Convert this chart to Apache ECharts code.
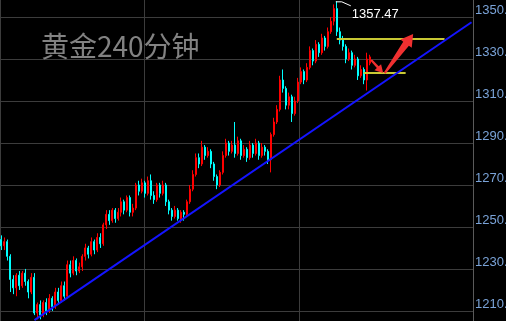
<!DOCTYPE html>
<html><head><meta charset="utf-8">
<script src="https://cdn.jsdelivr.net/npm/echarts@6/dist/echarts.min.js"></script>
<style>html,body{margin:0;padding:0;background:#000;}#c{width:506px;height:321px;}</style>
</head><body><div id="c"></div>
<script>
const chartTitle = '黄金240分钟';
const yTickValues = [1210, 1230, 1250, 1270, 1290, 1310, 1330, 1350];
const slotCount = 158;
// [open, close, low, high]
const candles = [
[1244,1241,1239,1246],[1241,1243,1239,1245],[1243,1236,1234,1244],[1236,1225,1219,1237],[1225,1221,1218,1227],
[1221,1227,1217,1228],[1227,1222,1220,1229],[1222,1228,1221,1229],[1228,1224,1222,1230],[1224,1219,1216,1225],
[1219,1226,1218,1228],[1226,1209,1208,1228],[1209,1213,1206,1214],[1213,1208,1206,1215],[1208,1214,1207,1215],
[1214,1210,1208,1216],[1210,1216,1209,1218],[1216,1212,1210,1217],[1212,1219,1211,1221],[1219,1215,1213,1221],
[1215,1222,1214,1224],[1222,1217,1215,1224],[1217,1232,1216,1234],[1232,1228,1226,1234],[1228,1234,1227,1236],
[1234,1229,1227,1235],[1229,1231,1228,1233],[1231,1236,1229,1237],[1236,1240,1234,1242],[1240,1237,1235,1241],
[1237,1243,1236,1245],[1243,1239,1237,1244],[1239,1245,1238,1247],[1245,1242,1240,1247],[1242,1251,1241,1252],
[1251,1256,1249,1258],[1256,1253,1251,1258],[1253,1258,1252,1259],[1258,1254,1252,1259],[1254,1257,1253,1259],
[1257,1262,1255,1264],[1262,1258,1256,1263],[1258,1264,1257,1265],[1264,1257,1255,1265],[1257,1259,1255,1261],
[1259,1270,1258,1271],[1270,1267,1265,1272],[1267,1271,1266,1273],[1271,1266,1264,1272],[1266,1272,1265,1274],
[1272,1265,1263,1275],[1265,1263,1261,1267],[1263,1270,1262,1271],[1270,1266,1264,1271],[1266,1270,1265,1272],
[1270,1262,1260,1271],[1262,1258,1256,1263],[1258,1255,1253,1259],[1255,1258,1254,1260],[1258,1254,1253,1259],
[1254,1257,1252,1258],[1257,1256,1253,1258],[1256,1262,1255,1263],[1262,1268,1261,1270],[1268,1275,1267,1277],
[1275,1283,1274,1285],[1283,1280,1278,1285],[1280,1288,1279,1291],[1288,1284,1282,1289],[1284,1286,1283,1288],
[1286,1280,1278,1287],[1280,1274,1272,1281],[1274,1270,1268,1275],[1270,1276,1269,1277],[1276,1284,1275,1286],
[1284,1290,1283,1292],[1290,1286,1284,1291],[1286,1289,1285,1291],[1289,1285,1283,1300],[1285,1291,1284,1293],
[1291,1284,1282,1292],[1284,1287,1283,1289],[1287,1283,1281,1288],[1283,1289,1282,1291],[1289,1285,1283,1290],
[1285,1290,1284,1292],[1290,1284,1282,1291],[1284,1288,1283,1290],[1288,1286,1284,1289],[1286,1282,1280,1287],
[1282,1294,1276,1295],[1294,1300,1293,1302],[1300,1306,1299,1308],[1306,1320,1305,1322],[1320,1316,1314,1325],
[1316,1308,1306,1317],[1308,1312,1306,1314],[1312,1304,1300,1313],[1304,1310,1303,1312],[1310,1319,1309,1321],
[1319,1324,1318,1326],[1324,1320,1318,1325],[1320,1326,1319,1328],[1326,1334,1325,1336],[1334,1329,1327,1335],
[1329,1337,1328,1339],[1337,1333,1331,1338],[1333,1340,1332,1342],[1340,1336,1334,1341],[1336,1343,1335,1345],
[1343,1348,1342,1350],[1348,1354,1346,1356],[1354,1343,1341,1357.47],[1343,1339,1337,1345],[1339,1336,1334,1341],
[1336,1330,1328,1337],[1330,1333,1329,1335],[1333,1327,1325,1334],[1327,1330,1326,1332],[1330,1322,1320,1331],
[1322,1325,1321,1327],[1325,1320,1318,1326],[1320,1330,1315,1333],[1328,1331,1327,1332]
];
const supportLevel = 1339.5;
const pullbackLevel = 1323.5;
const trendStart = [11, 1205.6];
const trendEnd = [157, 1347.5];
const vGridSlots = [0, 48, 100];

const categories = [];
for (let i = 0; i < slotCount; i++) categories.push('K' + (i + 1));
const seriesData = candles.map(c => c.slice());
while (seriesData.length < slotCount) seriesData.push('-');

const chart = echarts.init(document.getElementById('c'), null, {renderer: 'canvas'});
const option = {
  backgroundColor: '#000000',
  animation: false,
  title: {
    text: chartTitle, left: 41, top: 32, padding: 0,
    textStyle: {color: '#828282', fontSize: 28, fontWeight: 'normal', fontFamily: 'Noto Sans CJK SC'}
  },
  grid: {left: 0, right: 33, top: 0, bottom: 0, containLabel: false, outerBoundsMode: 'none'},
  xAxis: {
    type: 'category', data: categories, boundaryGap: true,
    axisLine: {show: false}, axisTick: {show: false}, axisLabel: {show: false},
    splitLine: {show: false}
  },
  yAxis: {
    type: 'value', position: 'right', min: 1205.2, max: 1358.1, scale: true,
    axisLine: {show: true, lineStyle: {color: '#5a5a5a', width: 1}},
    axisTick: {show: false, customValues: yTickValues},
    axisLabel: {show: true, customValues: yTickValues, inside: false, margin: 2,
      color: '#7aa3d8', fontSize: 13, fontFamily: 'Liberation Sans',
      verticalAlign: 'bottom', lineHeight: 13,
      formatter: v => v.toFixed(1)},
    splitLine: {show: false}
  },
  series: [{
    type: 'candlestick', data: seriesData, barWidth: 1.5, z: 3,
    itemStyle: {color: '#ff0000', color0: '#00ffff', borderColor: '#ff0000', borderColor0: '#00ffff', borderWidth: 1},
    markLine: {
      silent: true, symbol: 'none', label: {show: false}, animation: false,
      data: [
        [{coord: [112, supportLevel], lineStyle: {color: '#c8c834', width: 2, type: 'solid'}}, {coord: [148, supportLevel]}],
        [{coord: [121, pullbackLevel], lineStyle: {color: '#c8c834', width: 2, type: 'solid'}}, {coord: [135, pullbackLevel]}],
        [{coord: trendStart, lineStyle: {color: '#1414ff', width: 2, type: 'solid'}}, {coord: trendEnd}]
      ]
    }
  }]
};
chart.setOption(option);

function px(i, v) {
  const i0 = Math.floor(i), f = i - i0;
  const a = chart.convertToPixel({seriesIndex: 0}, [i0, v]);
  const b = chart.convertToPixel({seriesIndex: 0}, [i0 + 1, v]);
  return [a[0] + (b[0] - a[0]) * f, a[1]];
}
function arrowPoly(s, t, w0, w1, hw, hl) {
  const dx = t[0] - s[0], dy = t[1] - s[1], L = Math.hypot(dx, dy);
  const ux = dx / L, uy = dy / L, nx = -uy, ny = ux;
  const bx = t[0] - ux * hl, by = t[1] - uy * hl;
  return [
    [s[0] + nx * w0 / 2, s[1] + ny * w0 / 2],
    [bx + nx * w1 / 2, by + ny * w1 / 2],
    [bx + nx * hw / 2, by + ny * hw / 2],
    [t[0], t[1]],
    [bx - nx * hw / 2, by - ny * hw / 2],
    [bx - nx * w1 / 2, by - ny * w1 / 2],
    [s[0] - nx * w0 / 2, s[1] - ny * w0 / 2]
  ];
}
// grid lines placed through the axes' own scales, as thin solid bands
const gridGraphics = [];
const gx1 = Math.round(px(157, 1300)[0] + 1.5);
yTickValues.forEach(v => {
  const y = Math.round(px(0, v)[1]);
  gridGraphics.push({type: 'rect', silent: true, z: 0,
    shape: {x: 0, y: y, width: gx1, height: 1}, style: {fill: '#3c3c3c'}});
});
vGridSlots.forEach(i => {
  const x = Math.max(0, Math.round(px(i, 1300)[0] - 1.5));
  gridGraphics.push({type: 'rect', silent: true, z: 0,
    shape: {x: x, y: 0, width: 1, height: 321}, style: {fill: '#3c3c3c'}});
});
let mi = 0;
candles.forEach((c, i) => { if (c[3] > candles[mi][3]) mi = i; });
const peak = px(mi, candles[mi][3]);
const a1s = px(123.5, 1329.5), a1t = px(127.5, 1323.3);
const a2s = px(128, 1323.3), a2t = px(137.5, 1341.9);
chart.setOption({
  graphic: gridGraphics.concat([
    {type: 'polyline', silent: true, z: 10, shape: {points: [[peak[0] - 1, peak[1] + 0.5], [peak[0] + 5, peak[1] + 0.5], [peak[0] + 14, peak[1] + 4.5]]},
      style: {stroke: '#ffffff', lineWidth: 1, fill: null}},
    {type: 'text', silent: true, z: 10, x: peak[0] + 15, y: peak[1] + 13,
      style: {text: candles[mi][3].toFixed(2), fill: '#ffffff', font: '13px "Liberation Sans"', verticalAlign: 'middle', align: 'left'}},
    {type: 'polygon', silent: true, z: 10, shape: {points: arrowPoly(a1s, a1t, 2, 2.5, 9, 8)}, style: {fill: '#f03030'}},
    {type: 'polygon', silent: true, z: 10, shape: {points: arrowPoly(a2s, a2t, 2, 7, 14, 12)}, style: {fill: '#f03030'}}
  ])
});
</script>
</body></html>
